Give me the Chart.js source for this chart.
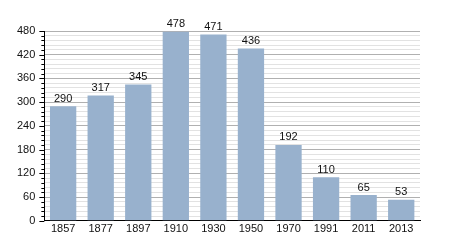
<!DOCTYPE html>
<html>
<head>
<meta charset="utf-8">
<script src="https://cdn.jsdelivr.net/npm/chart.js@4"></script>
<style>
  html, body { margin: 0; padding: 0; background: #fff; }
  #wrap { width: 450px; height: 250px; }
</style>
</head>
<body>
<div id="wrap"><canvas id="popChart" width="450" height="250"></canvas></div>
<script>
// data
const years = ['1857', '1877', '1897', '1910', '1930', '1950', '1970', '1991', '2011', '2013'];
const population = [290, 317, 345, 478, 471, 436, 192, 110, 65, 53];
const yMax = 480;
const majorStep = 60;
const minorStep = 12;

// value labels on top of each bar
const barLabels = {
    id: 'barLabels',
    afterDatasetsDraw(chart) {
        const ctx = chart.ctx;
        const meta = chart.getDatasetMeta(0);
        ctx.save();
        ctx.font = '11px "Liberation Sans", Arial, sans-serif';
        ctx.fillStyle = '#111';
        ctx.textAlign = 'center';
        ctx.textBaseline = 'bottom';
        meta.data.forEach((bar, i) => {
            ctx.fillText(population[i], bar.x, bar.y - 2);
        });
        ctx.restore();
    }
};

// short minor ticks on the y axis
const minorTicks = {
    id: 'minorTicks',
    afterDraw(chart) {
        const ctx = chart.ctx;
        const y = chart.scales.y;
        ctx.save();
        ctx.strokeStyle = '#000';
        ctx.lineWidth = 1;
        for (let v = 0; v <= yMax; v += minorStep) {
            const py = Math.round(y.getPixelForValue(v)) + 0.5;
            const len = v % majorStep === 0 ? 5 : 3;
            ctx.beginPath();
            ctx.moveTo(y.right - len, py);
            ctx.lineTo(y.right, py);
            ctx.stroke();
        }
        ctx.restore();
    }
};

const ctx = document.getElementById('popChart').getContext('2d');
new Chart(ctx, {
    type: 'bar',
    data: {
        labels: years,
        datasets: [{
            data: population,
            backgroundColor: '#98b1cd',
            borderWidth: 0,
            categoryPercentage: 1,
            barPercentage: 0.7
        }]
    },
    options: {
        responsive: false,
        animation: false,
        layout: { padding: { top: 31, right: 30, left: 8, bottom: 12 } },
        plugins: {
            legend: { display: false },
            tooltip: { enabled: false }
        },
        scales: {
            x: {
                grid: { display: false, drawTicks: false },
                border: { color: '#000', width: 1 },
                ticks: {
                    color: '#111',
                    padding: 2,
                    maxRotation: 0,
                    font: { family: '"Liberation Sans", Arial, sans-serif', size: 11 }
                }
            },
            y: {
                min: 0,
                max: yMax,
                border: { color: '#000', width: 1 },
                grid: {
                    color: c => (c.tick.value % majorStep === 0 ? '#b0b0b0' : '#e2e2e2'),
                    drawTicks: false
                },
                ticks: {
                    stepSize: minorStep,
                    autoSkip: false,
                    padding: 9,
                    color: '#111',
                    font: { family: '"Liberation Sans", Arial, sans-serif', size: 11 },
                    callback: v => (v % majorStep === 0 ? v : '')
                }
            }
        }
    },
    plugins: [barLabels, minorTicks]
});
</script>
</body>
</html>
